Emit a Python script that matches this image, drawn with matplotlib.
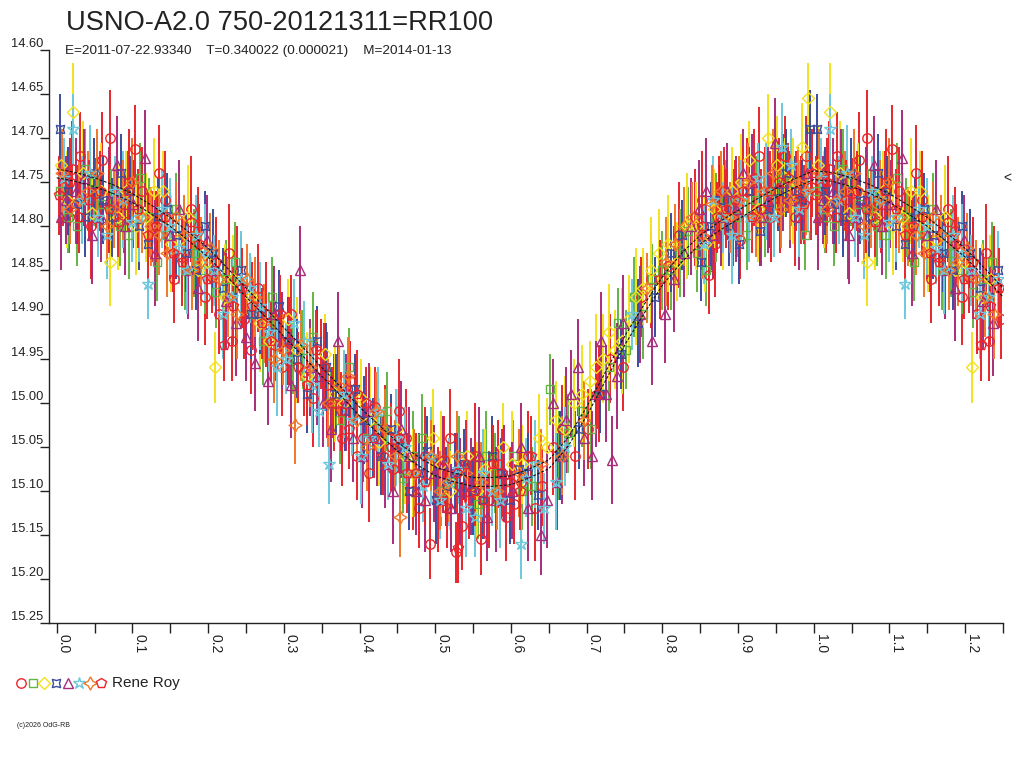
import matplotlib
matplotlib.use('Agg')
import matplotlib.pyplot as plt
from matplotlib import font_manager
import numpy as np

# ---------------- data (phase, magnitude, error) ----------------
red_circle = [
    (0.008, 14.755, 0.045), (0.016, 14.790, 0.040), (0.031, 14.720, 0.050), (0.052, 14.762, 0.040),
    (0.071, 14.700, 0.055), (0.089, 14.785, 0.045), (0.104, 14.712, 0.050), (0.112, 14.760, 0.050),
    (0.126, 14.800, 0.040), (0.143, 14.770, 0.055), (0.165, 14.835, 0.045), (0.187, 14.805, 0.050),
    (0.205, 14.858, 0.040), (0.215, 14.900, 0.045), (0.228, 14.830, 0.055), (0.232, 14.930, 0.045),
    (0.247, 14.905, 0.045), (0.266, 14.870, 0.050), (0.288, 14.935, 0.040), (0.309, 14.900, 0.045),
    (0.327, 14.965, 0.050), (0.349, 14.945, 0.040), (0.366, 15.000, 0.055), (0.388, 14.975, 0.045),
    (0.405, 15.040, 0.050), (0.421, 15.005, 0.045), (0.433, 15.030, 0.050), (0.444, 15.075, 0.040),
    (0.462, 15.040, 0.055), (0.470, 15.100, 0.045), (0.478, 15.120, 0.045), (0.493, 15.160, 0.040),
    (0.511, 15.065, 0.050), (0.527, 15.170, 0.035), (0.536, 15.140, 0.050), (0.545, 15.110, 0.045),
    (0.561, 15.155, 0.040), (0.583, 15.070, 0.050), (0.604, 15.115, 0.045), (0.622, 15.060, 0.050),
    (0.641, 15.095, 0.045), (0.668, 15.030, 0.050), (0.702, 15.030, 0.045), (0.731, 14.950, 0.050),
    (0.772, 14.880, 0.045), (0.808, 14.845, 0.050), (0.843, 14.790, 0.055), (0.862, 14.855, 0.045),
    (0.875, 14.770, 0.050), (0.881, 14.760, 0.050), (0.903, 14.815, 0.045), (0.921, 14.745, 0.055),
    (0.935, 14.760, 0.050), (0.944, 14.790, 0.050), (0.950, 14.730, 0.050), (0.962, 14.720, 0.045),
    (0.983, 14.770, 0.050), (0.990, 14.720, 0.045),
    (0.020, 14.735, 0.055), (0.045, 14.800, 0.060), (0.060, 14.725, 0.055), (0.095, 14.750, 0.060),
    (0.135, 14.740, 0.055), (0.155, 14.860, 0.050), (0.178, 14.780, 0.060), (0.196, 14.880, 0.055),
    (0.238, 14.860, 0.060), (0.256, 14.940, 0.050), (0.276, 14.900, 0.060), (0.298, 14.960, 0.055),
    (0.318, 14.940, 0.060), (0.338, 14.995, 0.055), (0.357, 14.980, 0.060), (0.377, 15.040, 0.055),
    (0.396, 15.060, 0.050), (0.413, 15.080, 0.055), (0.452, 15.010, 0.060), (0.486, 15.060, 0.055),
    (0.503, 15.110, 0.060), (0.519, 15.040, 0.055), (0.552, 15.060, 0.060), (0.571, 15.110, 0.055),
    (0.594, 15.130, 0.050), (0.613, 15.090, 0.055), (0.632, 15.120, 0.060), (0.655, 15.050, 0.055),
    (0.684, 15.060, 0.050), (0.716, 14.990, 0.055), (0.748, 14.960, 0.050), (0.785, 14.860, 0.055),
    (0.822, 14.810, 0.060), (0.852, 14.770, 0.055), (0.869, 14.820, 0.060), (0.893, 14.790, 0.055),
    (0.912, 14.760, 0.060), (0.928, 14.720, 0.055), (0.956, 14.770, 0.060), (0.975, 14.790, 0.055),
    (0.996, 14.755, 0.060),
]
green_square = [
    (0.015, 14.790, 0.040), (0.038, 14.735, 0.045), (0.060, 14.775, 0.035), (0.083, 14.800, 0.045),
    (0.110, 14.745, 0.040), (0.133, 14.840, 0.045), (0.158, 14.780, 0.040), (0.181, 14.830, 0.050),
    (0.210, 14.875, 0.040), (0.236, 14.840, 0.045), (0.259, 14.900, 0.040), (0.284, 14.880, 0.045),
    (0.312, 14.950, 0.040), (0.338, 14.925, 0.050), (0.362, 15.000, 0.040), (0.386, 14.960, 0.045),
    (0.410, 15.040, 0.040), (0.436, 15.010, 0.045), (0.457, 15.085, 0.040), (0.483, 15.040, 0.050),
    (0.508, 15.100, 0.040), (0.532, 15.060, 0.045), (0.556, 15.115, 0.040), (0.579, 15.080, 0.045),
    (0.603, 15.060, 0.040), (0.628, 15.095, 0.045), (0.652, 14.985, 0.040), (0.676, 15.035, 0.045),
    (0.694, 15.010, 0.040), (0.718, 14.990, 0.045), (0.741, 14.910, 0.040), (0.763, 14.880, 0.045),
    (0.786, 14.860, 0.040), (0.812, 14.850, 0.045), (0.834, 14.805, 0.050), (0.858, 14.850, 0.040),
    (0.884, 14.770, 0.045), (0.912, 14.810, 0.040), (0.936, 14.790, 0.045), (0.958, 14.745, 0.050),
    (0.988, 14.810, 0.040),
    (0.004, 14.760, 0.050), (0.027, 14.800, 0.045), (0.049, 14.750, 0.050), (0.072, 14.780, 0.045),
    (0.096, 14.810, 0.050), (0.122, 14.790, 0.045), (0.146, 14.810, 0.050), (0.170, 14.850, 0.045),
    (0.196, 14.850, 0.050), (0.223, 14.860, 0.045), (0.272, 14.930, 0.050), (0.325, 14.940, 0.045),
    (0.374, 15.020, 0.050), (0.423, 15.020, 0.045), (0.470, 15.060, 0.050), (0.520, 15.090, 0.045),
    (0.567, 15.060, 0.050), (0.615, 15.100, 0.045), (0.664, 15.060, 0.050), (0.706, 15.030, 0.045),
    (0.729, 14.960, 0.050), (0.752, 14.940, 0.045), (0.775, 14.900, 0.050), (0.799, 14.850, 0.045),
    (0.823, 14.830, 0.050), (0.846, 14.830, 0.045), (0.871, 14.790, 0.050), (0.898, 14.790, 0.045),
    (0.924, 14.770, 0.050), (0.947, 14.760, 0.045), (0.970, 14.750, 0.050),
]
yellow_diamond = [
    (0.006, 14.730, 0.045), (0.022, 14.670, 0.055), (0.047, 14.785, 0.045), (0.070, 14.840, 0.050),
    (0.092, 14.760, 0.045), (0.118, 14.790, 0.050), (0.140, 14.760, 0.045), (0.162, 14.815, 0.050),
    (0.186, 14.850, 0.045), (0.209, 14.960, 0.040), (0.233, 14.860, 0.050), (0.257, 14.880, 0.045),
    (0.281, 14.930, 0.050), (0.306, 14.905, 0.045), (0.330, 14.970, 0.050), (0.355, 14.945, 0.045),
    (0.379, 15.000, 0.050), (0.402, 14.995, 0.045), (0.426, 15.045, 0.050), (0.449, 15.030, 0.045),
    (0.471, 15.080, 0.050), (0.497, 15.040, 0.055), (0.520, 15.100, 0.045), (0.542, 15.060, 0.050),
    (0.566, 15.075, 0.045), (0.590, 15.050, 0.050), (0.615, 15.070, 0.045), (0.637, 15.040, 0.050),
    (0.660, 15.020, 0.045), (0.683, 15.000, 0.050), (0.705, 14.975, 0.045), (0.722, 14.950, 0.050),
    (0.738, 14.940, 0.045), (0.756, 14.905, 0.050), (0.774, 14.870, 0.045), (0.796, 14.830, 0.050),
    (0.820, 14.840, 0.045), (0.845, 14.800, 0.050), (0.868, 14.780, 0.045), (0.892, 14.760, 0.050),
    (0.915, 14.725, 0.045), (0.940, 14.700, 0.050), (0.962, 14.745, 0.045), (0.985, 14.710, 0.050),
    (0.993, 14.655, 0.040),
    (0.013, 14.770, 0.055), (0.035, 14.740, 0.060), (0.058, 14.760, 0.055), (0.081, 14.790, 0.060),
    (0.105, 14.800, 0.055), (0.129, 14.760, 0.060), (0.151, 14.820, 0.055), (0.174, 14.790, 0.060),
    (0.198, 14.840, 0.055), (0.222, 14.880, 0.060), (0.269, 14.910, 0.055), (0.318, 14.940, 0.060),
    (0.367, 14.990, 0.055), (0.414, 15.020, 0.060), (0.460, 15.060, 0.055), (0.508, 15.070, 0.060),
    (0.555, 15.100, 0.055), (0.602, 15.070, 0.060), (0.648, 15.050, 0.055), (0.671, 15.030, 0.060),
    (0.694, 14.990, 0.055), (0.713, 14.960, 0.060), (0.730, 14.920, 0.055), (0.747, 14.930, 0.060),
    (0.765, 14.880, 0.055), (0.785, 14.850, 0.060), (0.808, 14.820, 0.055), (0.832, 14.800, 0.060),
    (0.857, 14.820, 0.055), (0.880, 14.790, 0.060), (0.904, 14.750, 0.055), (0.927, 14.780, 0.060),
    (0.951, 14.730, 0.055), (0.973, 14.760, 0.060),
]
blue_hourglass = [
    (0.004, 14.690, 0.040), (0.027, 14.775, 0.045), (0.049, 14.740, 0.040), (0.073, 14.790, 0.045),
    (0.097, 14.760, 0.040), (0.121, 14.820, 0.045), (0.146, 14.780, 0.040), (0.171, 14.830, 0.045),
    (0.196, 14.800, 0.040), (0.219, 14.870, 0.045), (0.243, 14.850, 0.040), (0.268, 14.900, 0.045),
    (0.293, 14.890, 0.040), (0.318, 14.950, 0.045), (0.344, 14.930, 0.040), (0.369, 14.990, 0.045),
    (0.394, 14.985, 0.040), (0.418, 15.040, 0.045), (0.441, 15.030, 0.040), (0.466, 15.100, 0.045),
    (0.489, 15.055, 0.040), (0.514, 15.095, 0.045), (0.538, 15.070, 0.040), (0.563, 15.110, 0.045),
    (0.587, 15.080, 0.040), (0.611, 15.075, 0.045), (0.636, 15.105, 0.040), (0.690, 15.030, 0.045),
    (0.745, 14.945, 0.040), (0.790, 14.880, 0.045), (0.826, 14.810, 0.040), (0.851, 14.840, 0.045),
    (0.876, 14.770, 0.040), (0.901, 14.820, 0.045), (0.929, 14.805, 0.040), (0.953, 14.760, 0.045),
    (0.975, 14.760, 0.040), (0.995, 14.690, 0.045),
    (0.015, 14.760, 0.050), (0.038, 14.790, 0.045), (0.061, 14.770, 0.050), (0.085, 14.740, 0.045),
    (0.109, 14.800, 0.050), (0.134, 14.790, 0.045), (0.158, 14.810, 0.050), (0.184, 14.850, 0.045),
    (0.207, 14.830, 0.050), (0.231, 14.880, 0.045), (0.256, 14.900, 0.050), (0.281, 14.920, 0.045),
    (0.306, 14.930, 0.050), (0.331, 14.990, 0.045), (0.356, 14.960, 0.050), (0.381, 15.010, 0.045),
    (0.406, 15.020, 0.050), (0.429, 15.060, 0.045), (0.453, 15.050, 0.050), (0.478, 15.080, 0.045),
    (0.501, 15.110, 0.050), (0.526, 15.080, 0.045), (0.550, 15.100, 0.050), (0.575, 15.060, 0.045),
    (0.599, 15.110, 0.050), (0.623, 15.080, 0.045), (0.665, 15.060, 0.050), (0.718, 14.990, 0.045),
    (0.768, 14.910, 0.050), (0.812, 14.830, 0.045), (0.864, 14.800, 0.050), (0.888, 14.800, 0.045),
    (0.915, 14.760, 0.050), (0.941, 14.780, 0.045), (0.964, 14.740, 0.050), (0.985, 14.770, 0.045),
]
purple_triangle = [
    (0.012, 14.770, 0.050), (0.036, 14.745, 0.055), (0.058, 14.790, 0.050), (0.080, 14.730, 0.055),
    (0.101, 14.775, 0.050), (0.117, 14.723, 0.055), (0.149, 14.810, 0.050), (0.174, 14.850, 0.055),
    (0.198, 14.815, 0.050), (0.224, 14.885, 0.055), (0.250, 14.925, 0.050), (0.262, 14.955, 0.055),
    (0.279, 14.975, 0.050), (0.297, 14.930, 0.055), (0.321, 14.850, 0.050), (0.334, 14.960, 0.055),
    (0.352, 15.000, 0.050), (0.371, 14.930, 0.055), (0.392, 15.040, 0.050), (0.413, 15.010, 0.055),
    (0.433, 15.070, 0.050), (0.455, 15.030, 0.055), (0.475, 15.100, 0.050), (0.499, 15.080, 0.055),
    (0.521, 15.120, 0.050), (0.547, 15.095, 0.055), (0.568, 15.130, 0.050), (0.591, 15.080, 0.055),
    (0.613, 15.050, 0.050), (0.640, 15.150, 0.045), (0.648, 15.110, 0.055), (0.655, 15.000, 0.050),
    (0.667, 15.060, 0.055), (0.679, 14.990, 0.050), (0.689, 14.960, 0.055), (0.707, 15.060, 0.050),
    (0.719, 14.930, 0.055), (0.733, 15.065, 0.050), (0.748, 14.910, 0.055), (0.786, 14.930, 0.050),
    (0.803, 14.900, 0.055), (0.829, 14.830, 0.050), (0.848, 14.780, 0.055), (0.867, 14.810, 0.050),
    (0.886, 14.760, 0.055), (0.907, 14.740, 0.050), (0.930, 14.790, 0.055), (0.949, 14.705, 0.050),
    (0.969, 14.770, 0.055), (0.991, 14.740, 0.050),
    (0.005, 14.790, 0.060), (0.025, 14.760, 0.060), (0.047, 14.810, 0.055), (0.069, 14.770, 0.060),
    (0.090, 14.800, 0.055), (0.130, 14.830, 0.060), (0.161, 14.780, 0.055), (0.186, 14.870, 0.060),
    (0.211, 14.850, 0.055), (0.237, 14.910, 0.060), (0.287, 14.900, 0.055), (0.309, 14.980, 0.060),
    (0.344, 14.970, 0.055), (0.362, 15.030, 0.060), (0.382, 15.000, 0.055), (0.403, 15.060, 0.060),
    (0.423, 15.040, 0.055), (0.444, 15.100, 0.060), (0.465, 15.060, 0.055), (0.487, 15.110, 0.060),
    (0.510, 15.070, 0.055), (0.533, 15.100, 0.060), (0.558, 15.060, 0.055), (0.580, 15.110, 0.060),
    (0.602, 15.100, 0.055), (0.623, 15.120, 0.060), (0.661, 15.090, 0.055), (0.673, 15.020, 0.060),
    (0.697, 15.040, 0.055), (0.713, 14.990, 0.060), (0.726, 14.990, 0.055), (0.740, 14.970, 0.060),
    (0.771, 14.900, 0.055), (0.816, 14.860, 0.060), (0.838, 14.800, 0.055), (0.858, 14.760, 0.060),
    (0.877, 14.790, 0.055), (0.897, 14.780, 0.060), (0.918, 14.750, 0.055), (0.939, 14.770, 0.060),
    (0.959, 14.750, 0.055), (0.980, 14.790, 0.060),
]
cyan_star = [
    (0.010, 14.745, 0.045), (0.021, 14.690, 0.040), (0.055, 14.790, 0.045), (0.077, 14.760, 0.040),
    (0.099, 14.795, 0.045), (0.120, 14.865, 0.040), (0.139, 14.780, 0.045), (0.161, 14.825, 0.040),
    (0.184, 14.810, 0.045), (0.208, 14.850, 0.040), (0.231, 14.880, 0.045), (0.255, 14.870, 0.040),
    (0.280, 14.920, 0.045), (0.303, 14.950, 0.040), (0.326, 14.930, 0.045), (0.347, 15.010, 0.040),
    (0.360, 15.070, 0.045), (0.390, 15.020, 0.040), (0.414, 15.040, 0.045), (0.437, 15.070, 0.040),
    (0.460, 15.050, 0.045), (0.484, 15.095, 0.040), (0.506, 15.110, 0.045), (0.530, 15.075, 0.040),
    (0.552, 15.130, 0.045), (0.575, 15.100, 0.040), (0.613, 15.160, 0.040), (0.620, 15.085, 0.045),
    (0.644, 15.120, 0.040), (0.672, 15.050, 0.045), (0.760, 14.900, 0.040), (0.855, 14.820, 0.045),
    (0.880, 14.790, 0.040), (0.904, 14.770, 0.045), (0.926, 14.745, 0.040), (0.947, 14.790, 0.045),
    (0.970, 14.730, 0.040), (0.992, 14.760, 0.045),
    (0.033, 14.770, 0.050), (0.044, 14.740, 0.055), (0.066, 14.810, 0.050), (0.088, 14.770, 0.055),
    (0.109, 14.790, 0.050), (0.150, 14.800, 0.055), (0.172, 14.850, 0.050), (0.196, 14.830, 0.055),
    (0.219, 14.900, 0.050), (0.243, 14.860, 0.055), (0.268, 14.890, 0.050), (0.291, 14.960, 0.055),
    (0.314, 14.910, 0.050), (0.337, 14.980, 0.055), (0.379, 14.990, 0.050), (0.402, 15.060, 0.055),
    (0.425, 15.010, 0.050), (0.448, 15.040, 0.055), (0.472, 15.080, 0.050), (0.495, 15.060, 0.055),
    (0.518, 15.090, 0.050), (0.541, 15.120, 0.055), (0.563, 15.080, 0.050), (0.586, 15.110, 0.055),
    (0.632, 15.070, 0.050), (0.660, 15.090, 0.055), (0.867, 14.770, 0.050), (0.892, 14.810, 0.055),
    (0.915, 14.790, 0.050), (0.937, 14.760, 0.055), (0.958, 14.710, 0.050), (0.981, 14.780, 0.055),
]
orange_star = [
    (0.018, 14.780, 0.040), (0.041, 14.760, 0.045), (0.066, 14.800, 0.040), (0.087, 14.770, 0.045),
    (0.112, 14.790, 0.040), (0.135, 14.810, 0.045), (0.157, 14.790, 0.040), (0.179, 14.850, 0.045),
    (0.202, 14.825, 0.040), (0.226, 14.880, 0.045), (0.251, 14.860, 0.040), (0.274, 14.910, 0.045),
    (0.299, 14.940, 0.040), (0.315, 15.025, 0.045), (0.323, 14.935, 0.040), (0.373, 14.980, 0.045),
    (0.397, 15.020, 0.040), (0.422, 15.010, 0.045), (0.447, 15.060, 0.040), (0.453, 15.130, 0.045),
    (0.494, 15.060, 0.040), (0.517, 15.090, 0.045), (0.541, 15.080, 0.040), (0.582, 15.100, 0.045),
    (0.640, 15.070, 0.040), (0.697, 15.020, 0.045), (0.780, 14.870, 0.040), (0.817, 14.820, 0.045),
    (0.839, 14.790, 0.040), (0.866, 14.775, 0.045), (0.889, 14.790, 0.040), (0.913, 14.750, 0.045),
    (0.934, 14.760, 0.040), (0.957, 14.780, 0.045), (0.979, 14.750, 0.040),
    (0.007, 14.740, 0.050), (0.030, 14.770, 0.045), (0.053, 14.740, 0.050), (0.076, 14.780, 0.045),
    (0.099, 14.750, 0.050), (0.124, 14.800, 0.045), (0.146, 14.830, 0.050), (0.168, 14.810, 0.045),
    (0.190, 14.840, 0.050), (0.214, 14.860, 0.045), (0.238, 14.900, 0.050), (0.262, 14.880, 0.045),
    (0.287, 14.950, 0.050), (0.335, 14.960, 0.045), (0.359, 15.000, 0.050), (0.385, 14.970, 0.045),
    (0.410, 15.050, 0.050), (0.434, 15.030, 0.045), (0.472, 15.080, 0.050), (0.506, 15.100, 0.045),
    (0.529, 15.060, 0.050), (0.560, 15.090, 0.045), (0.610, 15.080, 0.050), (0.668, 15.060, 0.045),
    (0.805, 14.840, 0.050), (0.828, 14.800, 0.045), (0.852, 14.810, 0.050), (0.877, 14.760, 0.045),
    (0.901, 14.770, 0.050), (0.924, 14.790, 0.045), (0.946, 14.740, 0.050), (0.968, 14.770, 0.045),
    (0.990, 14.760, 0.050),
]
red_pentagon = [
    (0.003, 14.765, 0.045), (0.029, 14.790, 0.040), (0.057, 14.760, 0.045), (0.081, 14.795, 0.040),
    (0.108, 14.780, 0.045), (0.131, 14.800, 0.040), (0.154, 14.830, 0.045), (0.177, 14.795, 0.040),
    (0.199, 14.860, 0.045), (0.221, 14.935, 0.040), (0.245, 14.870, 0.045), (0.271, 14.910, 0.040),
    (0.295, 14.900, 0.045), (0.319, 14.960, 0.040), (0.342, 14.940, 0.045), (0.364, 15.000, 0.040),
    (0.386, 15.030, 0.045), (0.408, 15.000, 0.040), (0.431, 15.060, 0.045), (0.452, 15.040, 0.040),
    (0.474, 15.080, 0.045), (0.530, 15.165, 0.040), (0.529, 15.080, 0.045), (0.553, 15.100, 0.040),
    (0.576, 15.070, 0.045), (0.599, 15.090, 0.040), (0.626, 15.060, 0.045), (0.714, 14.990, 0.040),
    (0.797, 14.860, 0.045), (0.872, 14.790, 0.040), (0.896, 14.770, 0.045), (0.918, 14.790, 0.040),
    (0.942, 14.760, 0.045), (0.966, 14.745, 0.040), (0.987, 14.775, 0.045),
    (0.017, 14.750, 0.050), (0.043, 14.770, 0.045), (0.069, 14.780, 0.050), (0.094, 14.760, 0.045),
    (0.120, 14.810, 0.050), (0.143, 14.790, 0.045), (0.166, 14.840, 0.050), (0.188, 14.820, 0.045),
    (0.210, 14.840, 0.050), (0.233, 14.890, 0.045), (0.258, 14.890, 0.050), (0.283, 14.930, 0.045),
    (0.307, 14.930, 0.050), (0.330, 14.980, 0.045), (0.353, 14.960, 0.050), (0.375, 15.010, 0.045),
    (0.397, 14.990, 0.050), (0.419, 15.040, 0.045), (0.441, 15.050, 0.050), (0.463, 15.080, 0.045),
    (0.486, 15.090, 0.050), (0.515, 15.120, 0.045), (0.541, 15.070, 0.050), (0.565, 15.110, 0.045),
    (0.588, 15.080, 0.050), (0.612, 15.100, 0.045), (0.852, 14.800, 0.050), (0.884, 14.780, 0.045),
    (0.907, 14.760, 0.050), (0.930, 14.780, 0.045), (0.954, 14.750, 0.050), (0.977, 14.760, 0.045),
    (0.998, 14.740, 0.050),
]

# mean light-curve fit (phase, magnitude)
fit_phase = [0.000, 0.025, 0.050, 0.075, 0.100, 0.125, 0.150, 0.175, 0.200, 0.225, 0.250,
             0.275, 0.300, 0.325, 0.350, 0.375, 0.400, 0.425, 0.450, 0.475, 0.500,
             0.525, 0.550, 0.575, 0.600, 0.625, 0.650, 0.675, 0.700, 0.725, 0.750,
             0.775, 0.800, 0.825, 0.850, 0.875, 0.900, 0.925, 0.950, 0.975, 1.000,
             1.025, 1.050, 1.075, 1.100, 1.125, 1.150, 1.175, 1.200, 1.225, 1.250]
fit_mag = [14.740, 14.744, 14.750, 14.758, 14.768, 14.781, 14.795, 14.812, 14.830, 14.852, 14.875,
           14.897, 14.920, 14.942, 14.965, 14.987, 15.010, 15.030, 15.050, 15.065, 15.078,
           15.085, 15.090, 15.090, 15.088, 15.080, 15.070, 15.045, 15.010, 14.970, 14.930,
           14.895, 14.862, 14.836, 14.815, 14.800, 14.787, 14.774, 14.762, 14.751, 14.742,
           14.744, 14.750, 14.758, 14.768, 14.781, 14.795, 14.812, 14.830, 14.852, 14.875]
fit_offsets = [-0.005, 0.005]

x_tick_values = [0.0, 0.1, 0.2, 0.3, 0.4, 0.5, 0.6, 0.7, 0.8, 0.9, 1.0, 1.1, 1.2]
x_tick_labels = ['0.0', '0.1', '0.2', '0.3', '0.4', '0.5', '0.6', '0.7', '0.8', '0.9', '1.0', '1.1', '1.2']
x_minor_values = [0.05, 0.15, 0.25, 0.35, 0.45, 0.55, 0.65, 0.75, 0.85, 0.95, 1.05, 1.15, 1.25]
y_tick_values = [14.60, 14.65, 14.70, 14.75, 14.80, 14.85, 14.90, 14.95, 15.00, 15.05, 15.10, 15.15, 15.20, 15.25]
y_tick_labels = ['14.60', '14.65', '14.70', '14.75', '14.80', '14.85', '14.90', '14.95',
                 '15.00', '15.05', '15.10', '15.15', '15.20', '15.25']

title = 'USNO-A2.0 750-20121311=RR100'
subtitle = 'E=2011-07-22.93340    T=0.340022 (0.000021)    M=2014-01-13'
observer = 'Rene Roy'
footer = '(c)2026 OdG-RB'

# ---------------- styles ----------------
names = {f.name for f in font_manager.fontManager.ttflist}
SANS = 'Liberation Sans' if 'Liberation Sans' in names else 'DejaVu Sans'
INK = '#222222'

series = [
    (red_circle, '#e8262c', 'o', 6.8),
    (green_square, '#62b444', 's', 6.0),
    (yellow_diamond, '#f2e21c', 'D', 6.0),
    (blue_hourglass, '#3a4c9e', (4, 1, 45), 8.5),
    (purple_triangle, '#a82c7c', '^', 7.5),
    (cyan_star, '#6cc8dc', '*', 9.0),
    (orange_star, '#f07828', (4, 1, 0), 9.5),
    (red_pentagon, '#e8262c', 'p', 7.5),
]

fig = plt.figure(figsize=(10.24, 7.68), dpi=100)
ax = fig.add_axes([49 / 1024, 1 - 623 / 768, 954 / 1024, 573 / 768])

for data, color, marker, ms in series:
    arr = np.array(data)
    ph, mag, err = arr[:, 0], arr[:, 1], arr[:, 2]
    rep = ph < 0.25
    x = np.concatenate([ph, ph[rep] + 1.0])
    y = np.concatenate([mag, mag[rep]])
    e = np.concatenate([err, err[rep]])
    ax.errorbar(x, y, yerr=e, fmt='none', ecolor=color, elinewidth=1.4, capsize=0, zorder=2)
    ax.plot(x, y, ls='none', marker=marker, ms=ms, mfc='none', mec=color, mew=1.0, zorder=3)

for off in fit_offsets:
    ax.plot(fit_phase, np.array(fit_mag) + off, color='#111111', lw=0.8,
            ls=(0, (2.5, 1.5)), zorder=5)

ax.set_xlim(-0.0102, 1.25)
ax.set_ylim(15.25, 14.60)
for s in ['top', 'right']:
    ax.spines[s].set_visible(False)
for s in ['left', 'bottom']:
    ax.spines[s].set_linewidth(1.0)
    ax.spines[s].set_color(INK)

ax.set_xticks(x_tick_values)
ax.set_xticklabels(x_tick_labels, rotation=-90, ha='left', va='top', fontsize=10, family=SANS,
                   color=INK)
ax.set_xticks(x_minor_values, minor=True)
ax.tick_params(axis='x', which='both', direction='out', length=7.2, width=1.0, pad=1,
               color=INK)

ax.set_yticks(y_tick_values)
ax.set_yticklabels(y_tick_labels, fontsize=9.3, family=SANS, va='bottom', color=INK)
ax.tick_params(axis='y', direction='out', length=6.5, width=1.0, pad=-2.2, color=INK)

# texts
fig.text(66 / 1024, 1 - 29.5 / 768, title, fontsize=19.6, family=SANS, va='baseline',
         ha='left', color=INK)
fig.text(65 / 1024, 1 - 54 / 768, subtitle, fontsize=9.7, family=SANS, va='baseline',
         ha='left', color=INK)
fig.text(1003 / 1024, 1 - 178 / 768, '<', fontsize=10, family=SANS, va='center', ha='left',
         color=INK)
fig.text(112 / 1024, 1 - 687.5 / 768, observer, fontsize=11, family=SANS, va='baseline',
         ha='left', color=INK)
fig.text(17 / 1024, 1 - 727 / 768, footer, fontsize=5, family=SANS, va='baseline',
         ha='left', color=INK)

# legend symbols row
lax = fig.add_axes([0, 0, 1, 1])
lax.set_xlim(0, 1024)
lax.set_ylim(768, 0)
lax.axis('off')
lax.patch.set_alpha(0)
legend_x = [21, 33, 44, 56, 67.5, 79, 89.5, 101]
for (data, color, marker, ms), lx in zip(series, legend_x):
    lax.plot([lx], [683], ls='none', marker=marker, ms=ms, mfc='none', mec=color, mew=1.0)

fig.savefig('out.png', dpi=100)
